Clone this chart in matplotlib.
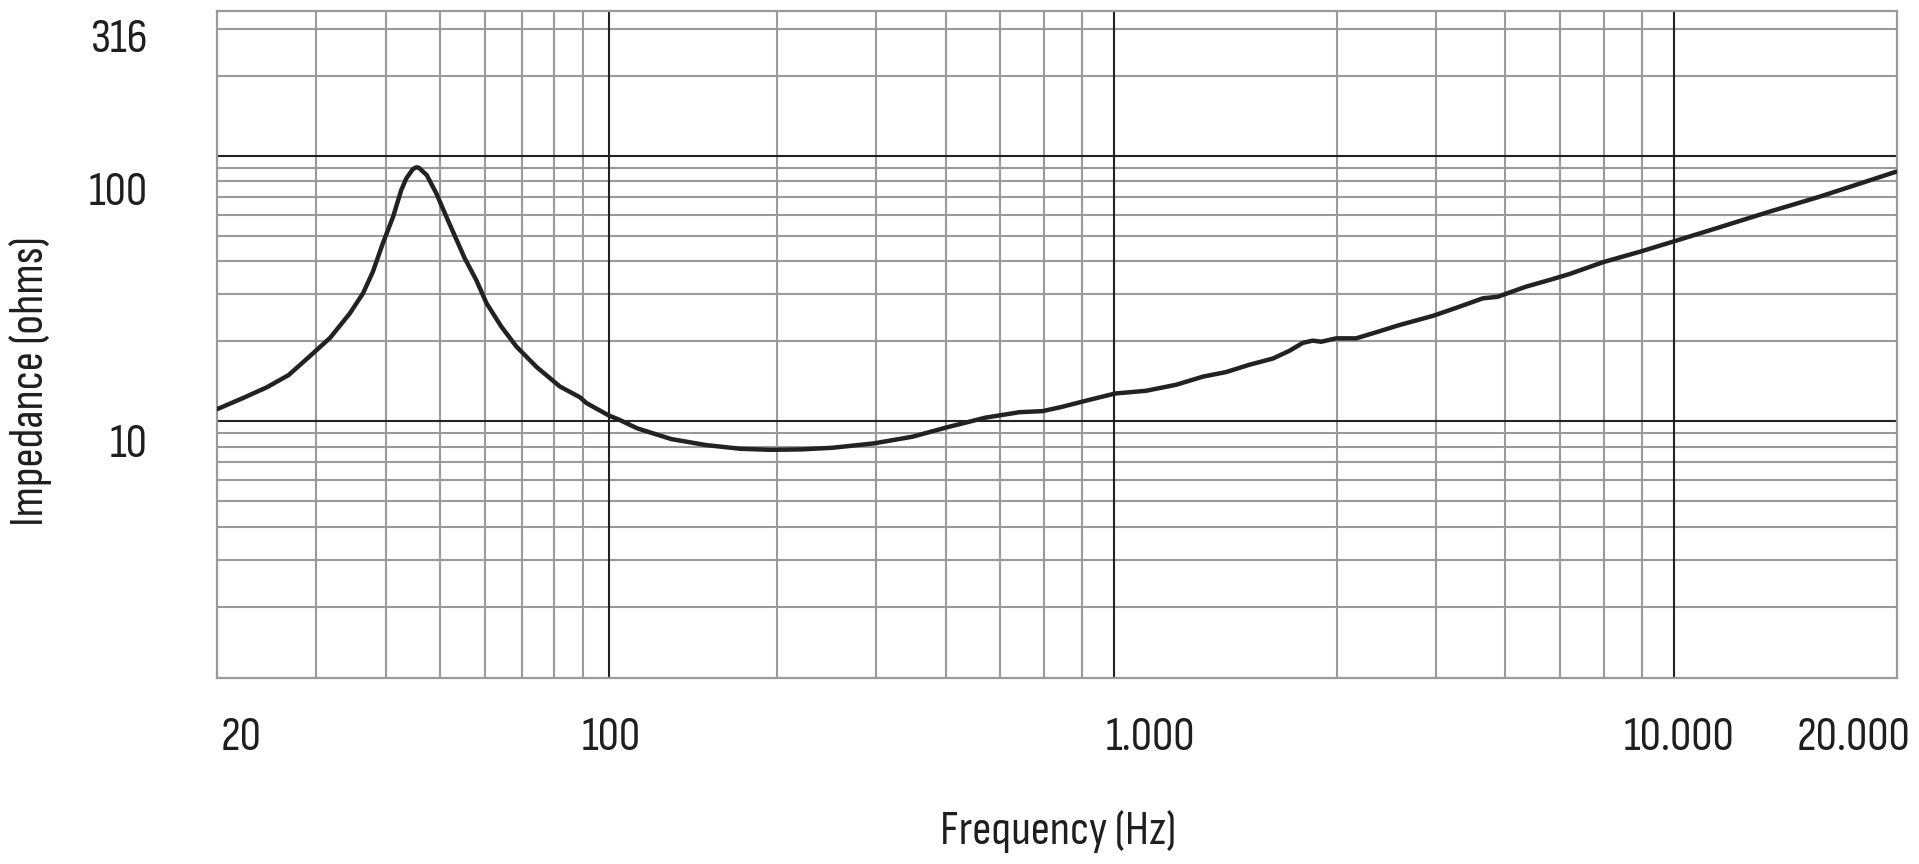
import matplotlib
matplotlib.use("Agg")
import matplotlib.pyplot as plt
import matplotlib.transforms as mtransforms
import matplotlib.ticker as mticker
from matplotlib import font_manager
from matplotlib.textpath import TextPath
from matplotlib.font_manager import FontProperties

# ---------------- data ----------------
freq_hz = [20.0, 22.2, 24.5, 26.8, 29.2, 31.8, 34.5, 36.4, 37.9, 39.5, 41.2, 42.6,
           43.5, 44.7, 45.3, 45.8, 47.3, 49.2, 51.6, 55.3, 58.0, 60.5, 64.3, 68.4,
           74.3, 81.8, 88.8, 91.2, 100.0, 104.6, 112.4, 129.4, 149.2, 171.9, 195.0,
           221.0, 251.0, 298.0, 349.0, 402.0, 471.0, 542.0, 596.0, 644.0, 720.0,
           803.0, 911.0, 1032.0, 1152.0, 1268.0, 1395.0, 1536.0, 1645.0, 1737.0,
           1810.0, 1874.0, 1993.0, 2164.0, 2349.0, 2585.0, 2965.0, 3265.0, 3642.0,
           3873.0, 4353.0, 4791.0, 5201.0, 5975.0, 6963.0, 7955.0, 9637.0, 11837.0,
           14540.0, 16670.0, 19930.0]
impedance_ohm = [11.1, 12.2, 13.4, 14.9, 17.5, 20.6, 25.5, 30.3, 36.5, 46.8, 58.9, 74.2,
                 82.2, 89.1, 90.4, 90.1, 84.6, 72.2, 57.2, 41.1, 34.0, 27.8, 22.7, 19.1,
                 16.0, 13.5, 12.3, 11.7, 10.5, 10.1, 9.39, 8.55, 8.12, 7.86, 7.79,
                 7.82, 7.93, 8.24, 8.73, 9.47, 10.3, 10.8, 10.9, 11.3, 12.0,
                 12.7, 13.0, 13.7, 14.7, 15.3, 16.3, 17.2, 18.4, 19.7,
                 20.1, 19.9, 20.5, 20.5, 21.6, 23.0, 24.9, 26.7, 29.0,
                 29.4, 32.1, 34.0, 35.8, 39.7, 43.5, 47.4, 53.7, 61.5,
                 70.0, 76.9, 87.0]

x_grid_minor = [30, 40, 50, 60, 70, 80, 90, 200, 300, 400, 500, 600, 700,
                2000, 3000, 4000, 5000, 6000, 7000]
x_grid_major = [100, 800, 8000]
y_grid_minor = [2, 3, 4, 5, 6, 7, 8, 9, 20, 30, 40, 50, 60, 70, 80, 90, 200, 300]
y_grid_major = [10, 100]

x_tick_labels = ["20", "100", "1.000", "10.000", "20.000"]
y_tick_labels = ["316", "100", "10"]

x_label = "Frequency (Hz)"
y_label = "Impedance (ohms)"

# ---------------- layout (positions, not data) ----------------
x_label_pos = [22.0, 101.2, 929.0, 8175.0, 16720.0]
y_label_pos = [246.0, 65.2, 7.35]

# ---------------- font ----------------
names = {f.name for f in font_manager.fontManager.ttflist}
family = "DejaVu Sans"
for cand in ["Sofia Sans Condensed", "PT Sans Narrow", "Fira Sans Extra Condensed",
             "Roboto Condensed"]:
    if cand in names:
        family = cand
        break


def size_for(text, target_px):
    fp = FontProperties(family=family, size=100)
    h = TextPath((0, 0), text, prop=fp).get_extents().height  # in points at 100pt
    return target_px * 72.0 / 100.0 / (h / 100.0)


tick_fs = size_for("0", 32)
label_fs = size_for("F", 31)

TXT = "#1e1e1e"
GRAY = "#9a9a9a"
DARK = "#222222"

fig = plt.figure(figsize=(19.19, 8.64), dpi=100)
ax = fig.add_axes([0.1133, 0.2156, 0.8751, 0.7720])
ax.set_xscale("log")
ax.set_yscale("log")
ax.set_xlim(20, 20000)
ax.set_ylim(1.078, 352)

for v in x_grid_minor:
    ax.axvline(v, color=GRAY, lw=1.5, zorder=1)
for v in y_grid_minor:
    ax.axhline(v, color=GRAY, lw=1.5, zorder=1)
for v in x_grid_major:
    ax.axvline(v, color=DARK, lw=1.5, zorder=2)
for v in y_grid_major:
    ax.axhline(v, color=DARK, lw=1.5, zorder=2)

ax.plot(freq_hz, impedance_ohm, color=DARK, lw=3.2, zorder=5,
        solid_joinstyle="round", solid_capstyle="round")

for s in ax.spines.values():
    s.set_color(GRAY)
    s.set_linewidth(1.6)

ax.tick_params(which="both", length=0, labelbottom=False, labelleft=False)
ax.xaxis.set_major_locator(mticker.NullLocator())
ax.xaxis.set_minor_locator(mticker.NullLocator())
ax.yaxis.set_major_locator(mticker.NullLocator())
ax.yaxis.set_minor_locator(mticker.NullLocator())

tx = mtransforms.blended_transform_factory(ax.transData, ax.transAxes)
for lab, pos in zip(x_tick_labels, x_label_pos):
    ax.text(pos, -0.1084, lab, transform=tx, ha="center", va="baseline",
            fontsize=tick_fs, color=TXT, clip_on=False, family=family)

ty = mtransforms.blended_transform_factory(ax.transAxes, ax.transData)
for lab, pos in zip(y_tick_labels, y_label_pos):
    ax.text(-0.0414, pos, lab, transform=ty, ha="right", va="baseline",
            fontsize=tick_fs, color=TXT, clip_on=False, family=family)

ax.set_xlabel(x_label, fontsize=label_fs, color=TXT, family=family)
ax.xaxis.label.set_verticalalignment("baseline")
ax.xaxis.set_label_coords(0.5005, -0.2493)
ax.set_ylabel(y_label, fontsize=label_fs, color=TXT, family=family)
ax.yaxis.label.set_verticalalignment("baseline")
ax.yaxis.set_label_coords(-0.1041, 0.4441)

fig.savefig("out.png", dpi=100, facecolor="white")
